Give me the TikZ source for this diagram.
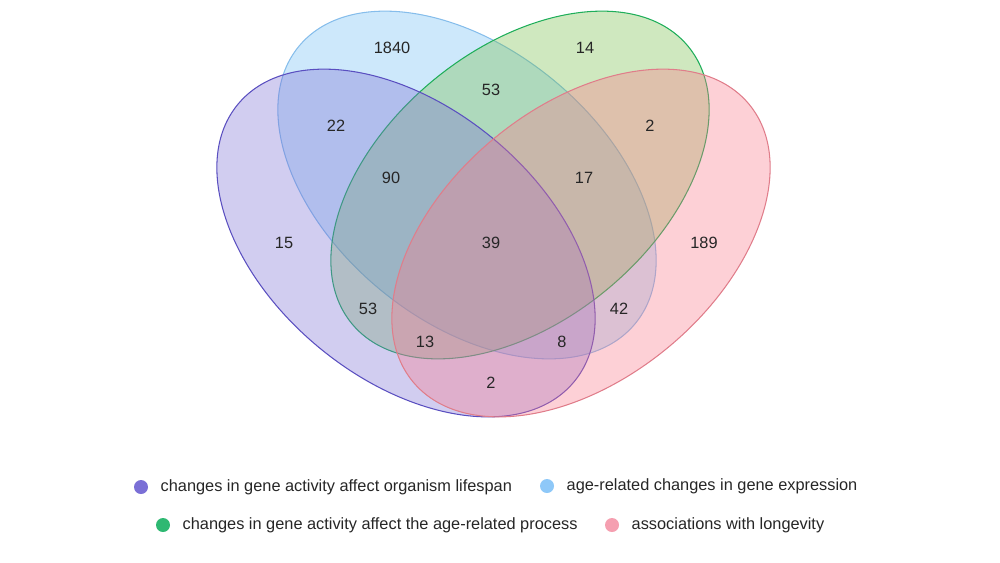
\documentclass[tikz,border=0pt]{standalone}
\usepackage{fontspec}
\setmainfont{Liberation Sans}
\usepackage{tikz}
\usetikzlibrary{positioning}
\definecolor{purpleline}{HTML}{5A4FC0}
\definecolor{purplefill}{HTML}{7C70D4}
\definecolor{purpledot}{HTML}{7A6FD6}
\definecolor{blueline}{HTML}{86BDEB}
\definecolor{bluefill}{HTML}{70BDF4}
\definecolor{bluedot}{HTML}{8EC8F8}
\definecolor{greenline}{HTML}{1FAE5A}
\definecolor{greenfill}{HTML}{76BD48}
\definecolor{greendot}{HTML}{2EB872}
\definecolor{pinkline}{HTML}{E07D8A}
\definecolor{pinkfill}{HTML}{F9798A}
\definecolor{pinkdot}{HTML}{F59FB0}
\tikzset{setshape/.style={draw, line width=0.6pt, fill opacity=0.35},
  count/.style={font=\fontsize{9.3}{11}\selectfont, text=black!85},
  legdot/.style={circle, inner sep=0pt, minimum size=0.28cm},
  legtext/.style={font=\fontsize{9.3}{11}\selectfont, text=black!85, inner sep=0pt, anchor=west}}

\begin{document}
\begin{tikzpicture}[x=0.02cm, y=-0.02cm]
    \useasboundingbox (0,0) rectangle (1000,562);

    % the four sets
    \path[setshape, draw=blueline, fill=bluefill, shift={(467,185)}, rotate=-39.5] (0,0) ellipse [x radius=4.36cm, y radius=2.72cm];
    \path[setshape, draw=greenline, fill=greenfill, shift={(520,185)}, rotate=39.5] (0,0) ellipse [x radius=4.36cm, y radius=2.72cm];
    \path[setshape, draw=purpleline, fill=purplefill, shift={(406,243)}, rotate=-39.5] (0,0) ellipse [x radius=4.36cm, y radius=2.72cm];
    \path[setshape, draw=pinkline, fill=pinkfill, shift={(581,243)}, rotate=39.5] (0,0) ellipse [x radius=4.36cm, y radius=2.72cm];

    % counts
    \node[count] at (392,48) (nB){1840};
    \node[count] at (585,48) (nG){14};
    \node[count] at (491,90) (nBG){53};
    \node[count] at (336,126) (nPB){22};
    \node[count] at (650,126) (nGK){2};
    \node[count] at (391,178) (nPBG){90};
    \node[count] at (584,178) (nBGK){17};
    \node[count] at (284,243) (nP){15};
    \node[count] at (491,243) (nAll){39};
    \node[count] at (704,243) (nK){189};
    \node[count] at (368,309) (nPG){53};
    \node[count] at (619,309) (nBK){42};
    \node[count] at (425,342) (nPGK){13};
    \node[count] at (562,342) (nPBK){8};
    \node[count] at (491,383) (nPK){2};

    % legend
    \node[legdot, fill=purpledot] at (141,487) (d1){};
    \node[legtext, right=0.24cm of d1] (t1){changes in gene activity affect organism lifespan};
    \node[legdot, fill=bluedot] at (547,486) (d2){};
    \node[legtext, right=0.24cm of d2] (t2){age-related changes in gene expression};
    \node[legdot, fill=greendot] at (163,525) (d3){};
    \node[legtext, right=0.24cm of d3] (t3){changes in gene activity affect the age-related process};
    \node[legdot, fill=pinkdot] at (612,525) (d4){};
    \node[legtext, right=0.24cm of d4] (t4){associations with longevity};
\end{tikzpicture}
\end{document}
